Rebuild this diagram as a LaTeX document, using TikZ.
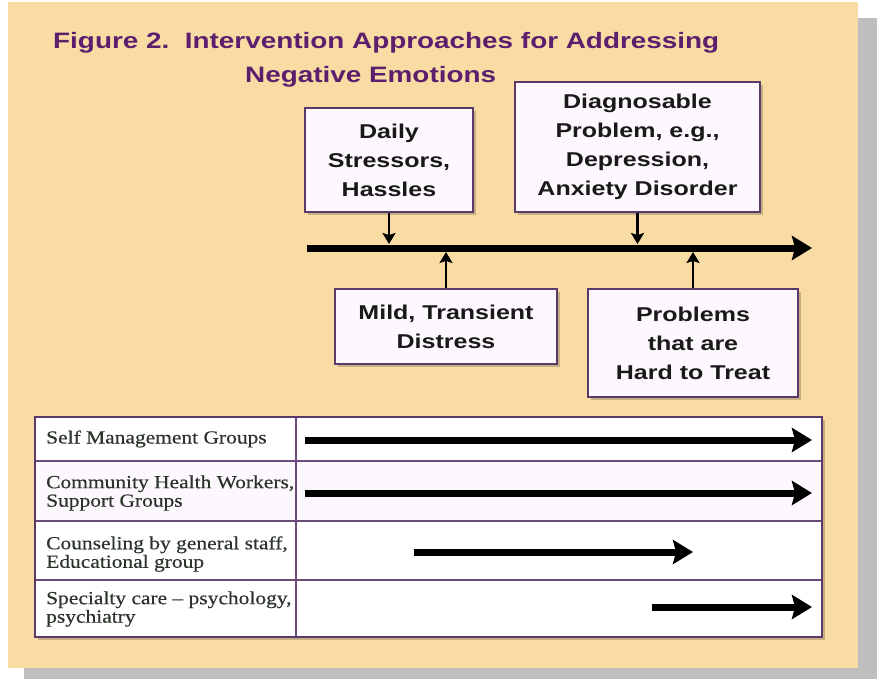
\documentclass[tikz,border=0pt]{standalone}
\usepackage{fontspec}
\newfontfamily\hsans[FakeStretch=1.25]{Liberation Sans}
\newfontfamily\tserif[FakeStretch=1.16,FakeBold=0.4]{Liberation Serif}
\usetikzlibrary{arrows.meta,shadows}
\definecolor{beige}{HTML}{F9DCA4}
\definecolor{pgray}{HTML}{BEBEBE}
\definecolor{titlecol}{HTML}{5C1F6E}
\definecolor{boxline}{HTML}{5A3A6A}
\definecolor{boxfill}{HTML}{FDF8FD}
\definecolor{tabline}{HTML}{6A4A78}
\definecolor{tabtext}{HTML}{2B332B}
\definecolor{shadowcol}{HTML}{A8906E}
\tikzset{
  stressbox/.style={draw=boxline, line width=1.4pt, fill=boxfill, align=center,
    font=\hsans\bfseries\fontsize{20}{29}\selectfont, text=black!90,
    drop shadow={shadow xshift=3pt, shadow yshift=-3pt, fill=shadowcol, opacity=0.6},
    inner sep=0pt},
  smallarrow/.style={line width=2.8pt, -{Stealth[length=11pt,width=13pt,inset=2pt]}},
  bigarrow/.style={line width=7pt, -{Stealth[length=20pt,width=24pt,inset=3pt]}},
  rowlabel/.style={anchor=west, inner sep=0pt, align=left, text=tabtext,
    font=\tserif\fontsize{18.5}{18.5}\selectfont},
}
\begin{document}
\begin{tikzpicture}[x=1pt,y=-1pt]
\useasboundingbox (0,0) rectangle (877,679);
\fill[white] (0,0) rectangle (877,679);
% page and its shadow
\fill[pgray] (24,18) rectangle (877,679);
\fill[beige] (8,2) rectangle (858,668);
% title
\node[anchor=base west, inner sep=0pt, text=titlecol, font=\hsans\bfseries\fontsize{22.3}{26}\selectfont]
  (title1) at (53,49) {Figure 2.\ \ Intervention Approaches for Addressing};
\node[anchor=base west, inner sep=0pt, text=titlecol, font=\hsans\bfseries\fontsize{22.3}{26}\selectfont]
  (title2) at (245,83) {Negative Emotions};
% boxes
\node[stressbox, minimum width=168pt, minimum height=104pt] (daily) at (389,160)
  {Daily\\Stressors,\\Hassles};
\node[stressbox, minimum width=245pt, minimum height=130pt] (diag) at (637.5,147)
  {Diagnosable\\Problem, e.g.,\\Depression,\\Anxiety Disorder};
\node[stressbox, minimum width=222pt, minimum height=75pt] (mild) at (446,326.5)
  {Mild, Transient\\Distress};
\node[stressbox, minimum width=210pt, minimum height=108pt] (prob) at (693,343)
  {Problems\\that are\\Hard to Treat};
% axis
\coordinate (axs) at (307,248);
\coordinate (axe) at (812,248);
\draw[bigarrow] (axs) -- (axe);
\coordinate (ad) at (389,244);
\coordinate (ag) at (637.5,244);
\coordinate (am) at (446,252);
\coordinate (ap) at (693,252);
\draw[smallarrow] (daily.south) -- (ad);
\draw[smallarrow] (diag.south) -- (ag);
\draw[smallarrow] (mild.north) -- (am);
\draw[smallarrow] (prob.north) -- (ap);
% table
\fill[shadowcol, opacity=0.6] (38,420) rectangle (825,640);
\fill[white] (35,417) rectangle (822,637);
\fill[boxfill] (35,461) rectangle (822,521);
\draw[tabline, line width=1.2pt] (35,461) -- (822,461);
\draw[tabline, line width=1.2pt] (35,521) -- (822,521);
\draw[tabline, line width=1.2pt] (35,580) -- (822,580);
\draw[tabline, line width=1.4pt] (296,417) -- (296,637);
\draw[boxline, line width=1.8pt] (35,417) rectangle (822,637);
\node[rowlabel] (r1) at (46,439) {Self Management Groups};
\node[rowlabel] (r2) at (46,493) {Community Health Workers,\\Support Groups};
\node[rowlabel] (r3) at (46,554) {Counseling by general staff,\\Educational group};
\node[rowlabel] (r4) at (46,609) {Specialty care – psychology,\\psychiatry};
\coordinate (s1) at (305,440); \coordinate (e1) at (812,440);
\coordinate (s2) at (305,493); \coordinate (e2) at (812,493);
\coordinate (s3) at (414,552); \coordinate (e3) at (693,552);
\coordinate (s4) at (652,607); \coordinate (e4) at (812,607);
\draw[bigarrow] (s1) -- (e1);
\draw[bigarrow] (s2) -- (e2);
\draw[bigarrow] (s3) -- (e3);
\draw[bigarrow] (s4) -- (e4);
\end{tikzpicture}
\end{document}
